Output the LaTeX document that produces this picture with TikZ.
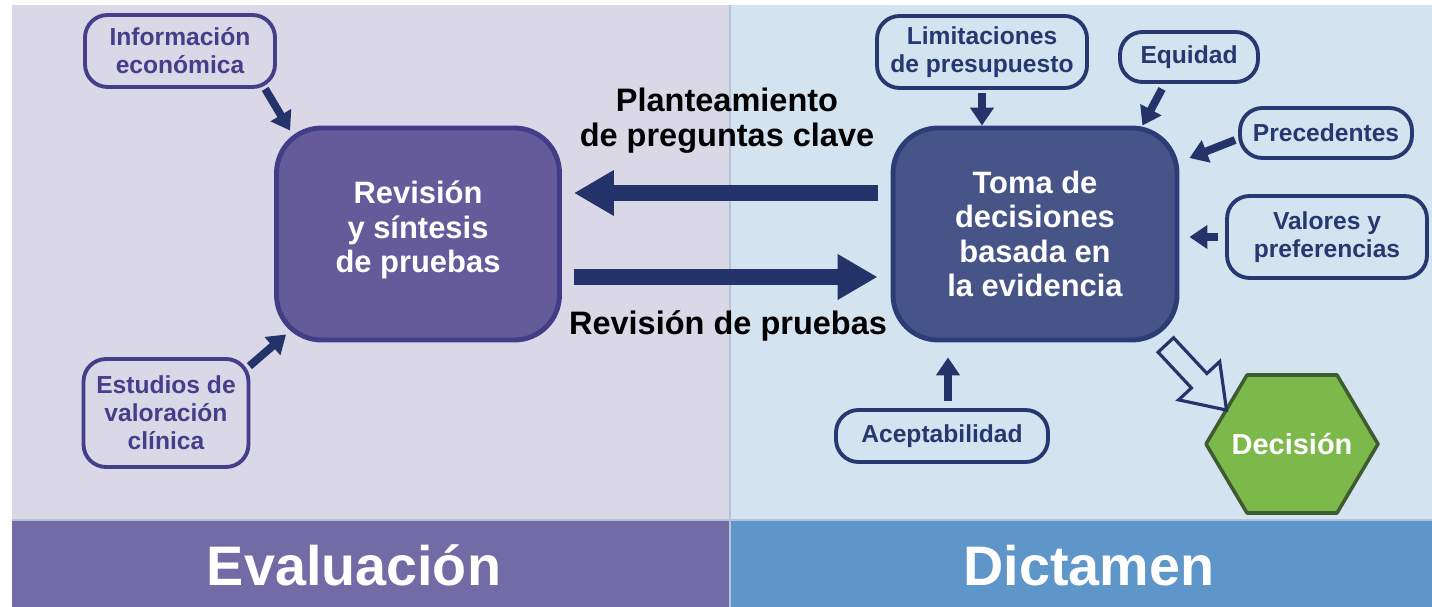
\documentclass[tikz,border=0pt]{standalone}
\usepackage{fontspec}
\setmainfont{Liberation Sans}
\usepackage{xcolor}
\usetikzlibrary{arrows.meta,calc,positioning,shapes.geometric,shapes.arrows}

\definecolor{evalbg}{HTML}{DAD8E7}
\definecolor{dictbg}{HTML}{D4E3F0}
\definecolor{evalband}{HTML}{736BA5}
\definecolor{dictband}{HTML}{5F96C9}
\definecolor{revfill}{HTML}{655B9B}
\definecolor{revdraw}{HTML}{433C86}
\definecolor{tomafill}{HTML}{465487}
\definecolor{tomadraw}{HTML}{2C3C76}
\definecolor{evaltext}{HTML}{453E8A}
\definecolor{dicttext}{HTML}{26386F}
\definecolor{arrowc}{HTML}{24346B}
\definecolor{decfill}{HTML}{7DB84A}
\definecolor{decdraw}{HTML}{3E5B32}
\definecolor{seam}{HTML}{B4C2DA}

\begin{document}
\begin{tikzpicture}[x=0.02cm,y=-0.02cm,
                    main node/.style={rectangle,rounded corners=0.9cm,line width=2.8pt,text=white,align=center,
                      font=\bfseries\fontsize{17.6}{19.6}\selectfont,minimum width=5.66cm,minimum height=4.24cm},
                    side node/.style={rectangle,rounded corners=0.45cm,line width=2.2pt,align=center,inner sep=2pt,
                      font=\bfseries\fontsize{14}{15.9}\selectfont},
                    eval node/.style={side node,draw=evaltext,text=evaltext},
                    dict node/.style={side node,draw=dicttext,text=dicttext},
                    feed/.style={draw=arrowc,line width=4.5pt,-{Triangle[length=0.36cm,width=0.46cm]}},
                    big arrow/.style={draw=arrowc,line width=9pt,-{Triangle[length=0.8cm,width=0.86cm]}},
                    mid label/.style={align=center,font=\bfseries\fontsize{18.5}{19.8}\selectfont},
                    band label/.style={text=white,anchor=base,font=\bfseries\fontsize{31.7}{34}\selectfont}]
 \useasboundingbox (0,0) rectangle (1432,607);

 % panels and bands
 \foreach \xa/\xb/\bg/\band in {12/730/evalbg/evalband, 730/1432/dictbg/dictband}
   {\fill[\bg] (\xa,5) rectangle (\xb,520);
    \fill[\band] (\xa,520) rectangle (\xb,607);}
 \draw[seam,line width=1pt] (730,5) -- (730,607);
 \draw[seam,line width=0.8pt] (12,520) -- (1432,520);

 \node[band label] (EvalLabel) at (354,585) {Evaluación};
 \node[band label] (DictLabel) at (1089,585) {Dictamen};

 % main boxes
 \node[main node,fill=revfill,draw=revdraw] (rev) at (418,234) {Revisión\\y síntesis\\de pruebas\rule[-8pt]{0pt}{0pt}};
 \node[main node,fill=tomafill,draw=tomadraw,minimum width=5.68cm] (toma) at (1035,234)
   {Toma de\\decisiones\\basada en\\la evidencia};

 % inputs
 \node[eval node,minimum width=3.8cm,minimum height=1.44cm] (info) at (180,51) {Información\\económica};
 \node[eval node,minimum width=3.3cm,minimum height=2.16cm] (est) at (166,413) {Estudios de\\valoración\\clínica};

 \node[dict node,minimum width=4.2cm,minimum height=1.44cm] (lim) at (982,52) {Limitaciones\\de presupuesto};
 \node[dict node,minimum width=2.76cm,minimum height=1cm] (equ) at (1189,57) {Equidad};
 \node[dict node,minimum width=3.44cm,minimum height=1cm] (prec) at (1326,133) {Precedentes};
 \node[dict node,minimum width=4cm,minimum height=1.64cm] (val) at (1327,237) {Valores y\\preferencias};
 \node[dict node,minimum width=4.24cm,minimum height=1.04cm] (acep) at (942,436) {Aceptabilidad};

 % outcome
 \coordinate (decC) at (1292,444);
 \filldraw[fill=decfill,draw=decdraw,line width=2pt,line join=round]
   ($(decC)+(-86,0)$) -- ++(41,-69) -- ++(90,0) -- ++(41,69) -- ++(-41,69) -- ++(-90,0) -- cycle;
 \node[text=white,font=\bfseries\fontsize{16.5}{18}\selectfont] (dec) at (decC) {Decisión};

 % connectors
 \draw[feed] (info.-24) -- ($(rev.north west)+(16,5)$);
 \draw[feed] ($(est.north east)+(-1,9)$) -- ($(rev.south west)+(12,-8)$);

 \draw[big arrow] ($(toma.west)+(-13,-41)$) -- ($(rev.east)+(12,-41)$);
 \draw[big arrow] ($(rev.east)+(12,43)$) -- ($(toma.west)+(-13,43)$);
 \node[mid label] (ask) at (727,121) {Planteamiento\\de preguntas clave};
 \node[mid label] (review) at (728,326) {Revisión de pruebas};

 \coordinate (acepTop) at ($(acep.north)+(6,0)$);
 \draw[feed,shorten <=2pt] (lim.south) -- (lim.south |- toma.north);
 \draw[feed] ($(equ.south)+(-27,5)$) -- ($(toma.north east)+(-37,0)$);
 \draw[feed] ($(prec.west)+(-3,7)$) -- ($(toma.east)+(10,-76)$);
 \draw[feed,shorten <=4pt,shorten >=5.7pt] (val.west) -- (val.west -| toma.east);
 \draw[feed,shorten <=4pt,shorten >=8.5pt] (acepTop) -- (acepTop |- toma.south);

 \node[single arrow,draw=arrowc,fill=dictbg,line width=1.8pt,minimum height=1.78cm,minimum width=0pt,
       inner xsep=0pt,inner ysep=0.18cm,single arrow head extend=0.35cm,single arrow tip angle=70,
       rotate=-47] (out) at (1191,372) {};

\end{tikzpicture}
\end{document}
